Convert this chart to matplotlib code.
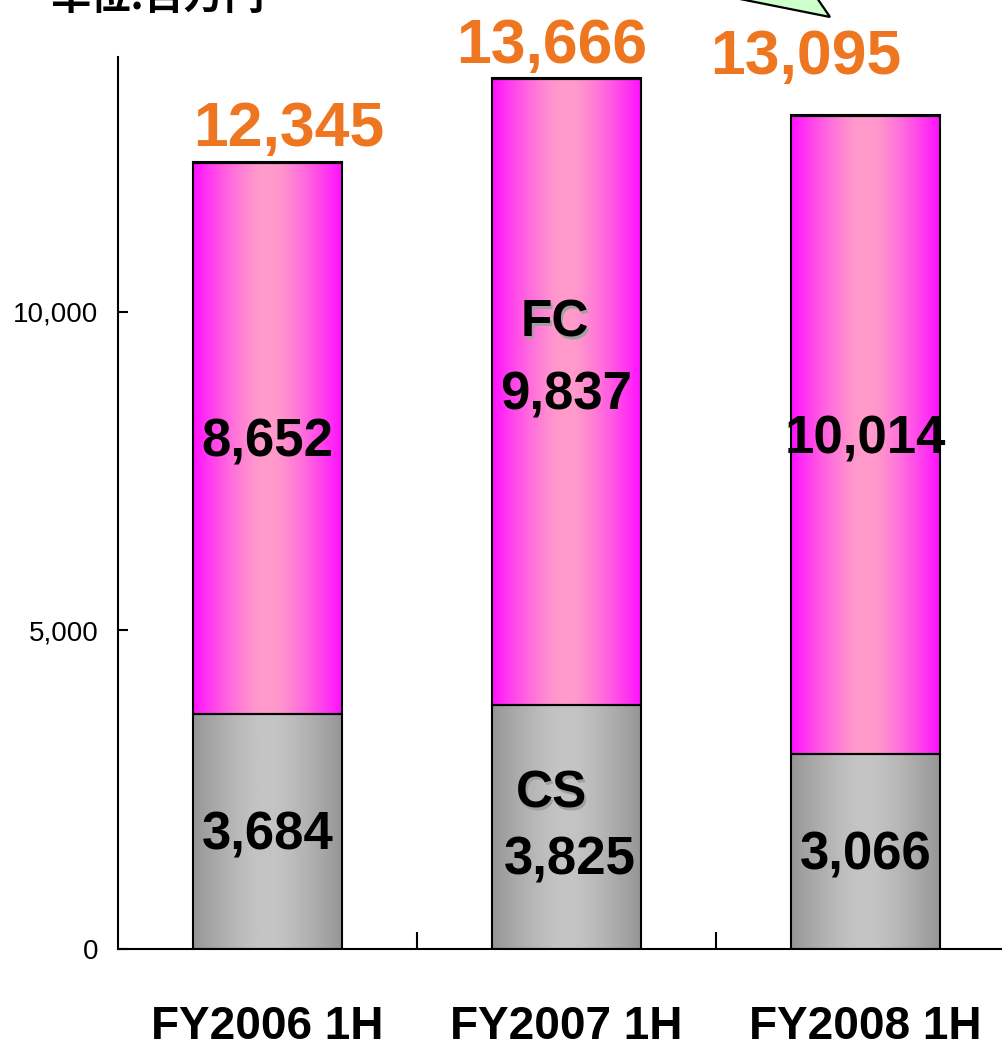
import numpy as np
import matplotlib
matplotlib.use("Agg")
import matplotlib.pyplot as plt
from matplotlib.patches import Polygon

# data (単位:百万円)
periods = ["FY2006 1H", "FY2007 1H", "FY2008 1H"]
cs = [3684, 3825, 3066]
fc = [8652, 9837, 10014]
other = [9, 4, 15]
totals = [12345, 13666, 13095]
yticks = [0, 5000, 10000]

W, H = 1003, 1043
plt.rcParams['font.family'] = ['Liberation Sans', 'DejaVu Sans']

fig = plt.figure(figsize=(W / 100, H / 100), dpi=100)
# axes run a little past the right edge like the cropped original
ax = fig.add_axes((118 / W, (H - 949) / H, (1015 - 118) / W, (949 - 57) / H))

x = np.arange(len(periods))
bw = 0.495


def grad_fill(bar, edge, center):
    t = np.abs(np.linspace(-1, 1, 200))
    t = np.clip((t - 0.1) / 0.9, 0, 1) ** 1.3
    e = np.array(matplotlib.colors.to_rgb(edge))
    c = np.array(matplotlib.colors.to_rgb(center))
    img = (c[None, :] * (1 - t[:, None]) + e[None, :] * t[:, None])[None, :, :]
    x0, y0 = bar.get_x(), bar.get_y()
    im = ax.imshow(img, extent=(x0, x0 + bar.get_width(), y0, y0 + bar.get_height()),
                   aspect='auto', zorder=1, interpolation='bilinear')
    im.set_clip_path(bar)


bars_cs = ax.bar(x, cs, bw, facecolor='none', edgecolor='black', linewidth=1.5, zorder=2)
bars_fc = ax.bar(x, fc, bw, bottom=cs, facecolor='none', edgecolor='black', linewidth=1.5, zorder=2)
ax.bar(x, other, bw, bottom=np.add(cs, fc), color='black', edgecolor='black', linewidth=1.5, zorder=2)
for b in bars_cs:
    grad_fill(b, '#969696', '#c4c4c4')
for b in bars_fc:
    grad_fill(b, '#ff10ff', '#ff9acb')

ax.set_xlim(-0.5, 2.5)
ax.set_ylim(0, 14000)

# value labels
fc_pos = [(0, 7950), (1, 8680), (2, 8000)]
cs_pos = [(0, 1780), (1.01, 1390), (2, 1470)]
tot_pos = [(0.07, 12860), (0.95, 14170), (1.8, 13990)]
for i in range(3):
    ax.text(*fc_pos[i], f"{fc[i]:,}", ha='center', va='center', fontsize=38,
            fontweight='bold', color='black', zorder=5)
    ax.text(*cs_pos[i], f"{cs[i]:,}", ha='center', va='center', fontsize=38,
            fontweight='bold', color='black', zorder=5)
    ax.text(*tot_pos[i], f"{totals[i]:,}", ha='center', va='center', fontsize=45,
            fontweight='bold', color='#ef7620', zorder=5, clip_on=False)

# series names with a soft shadow
for txt, (px, py) in [("FC", (0.96, 9830)), ("CS", (0.95, 2430))]:
    ax.text(px + 0.007, py - 50, txt, ha='center', va='center', fontsize=37,
            fontweight='bold', color='#a0a0a0', zorder=4)
    ax.text(px, py, txt, ha='center', va='center', fontsize=37,
            fontweight='bold', color='black', zorder=5)

ax.set_yticks(yticks)
ax.set_yticklabels([f"{v:,}" for v in yticks])
ax.tick_params(axis='y', direction='in', length=7, width=1.5, labelsize=20, pad=14)
ax.set_xticks(x)
ax.set_xticklabels(periods, fontsize=33, fontweight='bold')
ax.tick_params(axis='x', which='major', length=0, pad=40)
ax.set_xticks([0.5, 1.5, 2.5], minor=True)
ax.tick_params(axis='x', which='minor', direction='in', length=12, width=1.5)

for s in ['top', 'right']:
    ax.spines[s].set_visible(False)
for s in ['left', 'bottom']:
    ax.spines[s].set_linewidth(1.5)

# unit caption cut at the top
fig.text(50 / W, (H - 18) / H, "単位:百万円", fontsize=29, fontweight='bold',
         family=['Noto Sans CJK JP', 'DejaVu Sans'], ha='left', va='bottom')

# tip of the green callout arrow
arrow = Polygon([(735 / W, (H + 2) / H), (830 / W, (H - 17) / H), (817 / W, (H + 2) / H)],
                closed=True, transform=fig.transFigure, facecolor='#ccffcc',
                edgecolor='black', linewidth=1.6)
fig.patches.append(arrow)

fig.savefig("out.png", dpi=100)
